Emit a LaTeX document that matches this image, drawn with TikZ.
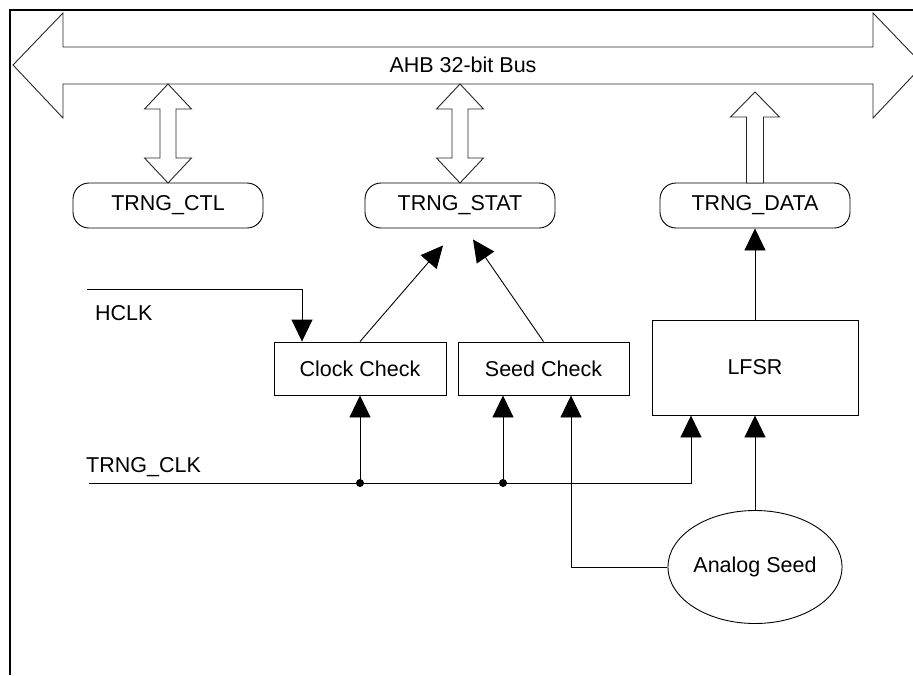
\documentclass[tikz,border=0pt]{standalone}
\usepackage{fontspec}
\setmainfont{Liberation Sans}
\usetikzlibrary{arrows.meta,shapes.geometric,calc}
\tikzset{
  lbl/.style={font=\fontsize{21.5}{24}\selectfont, inner sep=0pt},
  regbox/.style={draw, line width=0.9pt, rounded corners=16pt, minimum width=190pt, minimum height=45pt, lbl},
  blockbox/.style={draw, line width=0.9pt, lbl},
  sig/.style={line width=0.9pt, -{Triangle[length=22pt,width=21pt]}},
  wire/.style={line width=0.9pt},
  busline/.style={line width=0.9pt, draw=black!85, fill=white, line join=miter},
  framelin/.style={line width=2.5pt},
  jdot/.style={circle, fill=black, inner sep=0pt, minimum size=8pt}
}
\newcommand\busdbl[1]{%
  \draw[busline] (#1,84) -- (#1+23.5,109) -- (#1+8,109) -- (#1+8,158) -- (#1+23.5,158)
    -- (#1,183) -- (#1-23.5,158) -- (#1-8,158) -- (#1-8,109) -- (#1-23.5,109) -- cycle;}
\begin{document}
\begin{tikzpicture}[x=1pt,y=-1pt]
\useasboundingbox (0,0) rectangle (913,675);
% frame
\draw[framelin] (10,675) -- (10,10) -- (913,10);
% bus
\begin{scope}
\clip (0,0) rectangle (913,675);
\draw[busline] (13,65) -- (63,13) -- (63,47) -- (873,47) -- (873,13) -- (923,65)
  -- (873,118) -- (873,84) -- (63,84) -- (63,118) -- cycle;
\end{scope}
\node[lbl] (bus) at (463,65) {AHB 32-bit Bus};
% registers
\node[regbox] (ctl) at (168,205.5) {TRNG\_CTL};
\node[regbox] (stat) at (460,205.5) {TRNG\_STAT};
\node[regbox] (data) at (755,205.5) {TRNG\_DATA};
\busdbl{168}
\busdbl{460}
\draw[busline] (755,92) -- (779.5,117) -- (763.5,117) -- (763.5,183) -- (746.5,183)
  -- (746.5,117) -- (730.5,117) -- cycle;
% blocks
\node[blockbox, minimum width=172pt, minimum height=53pt] (clk) at (360,368.5) {Clock Check};
\node[blockbox, minimum width=171pt, minimum height=53pt] (seed) at (543.5,368.5) {Seed Check};
\node[blockbox, minimum width=206pt, minimum height=95pt] (lfsr) at (755,367.5) {LFSR};
\node[draw, ellipse, line width=0.9pt, minimum width=166pt, minimum height=113pt, lbl] (aseed) at (755,567) {Analog Seed};
% labels and inputs
\node[lbl, anchor=west] (hclklbl) at (95,313) {HCLK};
\node[lbl, anchor=west] (tclklbl) at (86,467) {TRNG\_CLK};
\coordinate (hclk) at (87,289);
\coordinate (tclk) at (89,483);
% connectors
\draw[sig] (hclk) -| ([xshift=-58pt]clk.north);
\draw[sig] (tclk) -| ([xshift=-64pt]lfsr.south);
\node[jdot] (d1) at (clk.south |- tclk) {};
\node[jdot] (d2) at ([xshift=-40.5pt]seed.south |- tclk) {};
\draw[sig] (d1.center) -- (clk.south);
\draw[sig] (d2.center) -- (d2.center |- seed.south);
\draw[sig] (aseed.west) -| ([xshift=27.5pt]seed.south);
\draw[sig] (aseed.north) -- (lfsr.south);
\draw[sig] (lfsr.north) -- (data.south);
\draw[sig] (clk.north) -- ([shift={(-17pt,-17pt)}]stat.south);
\draw[sig] (seed.north) -- ([shift={(13pt,-11pt)}]stat.south);
\end{tikzpicture}
\end{document}
